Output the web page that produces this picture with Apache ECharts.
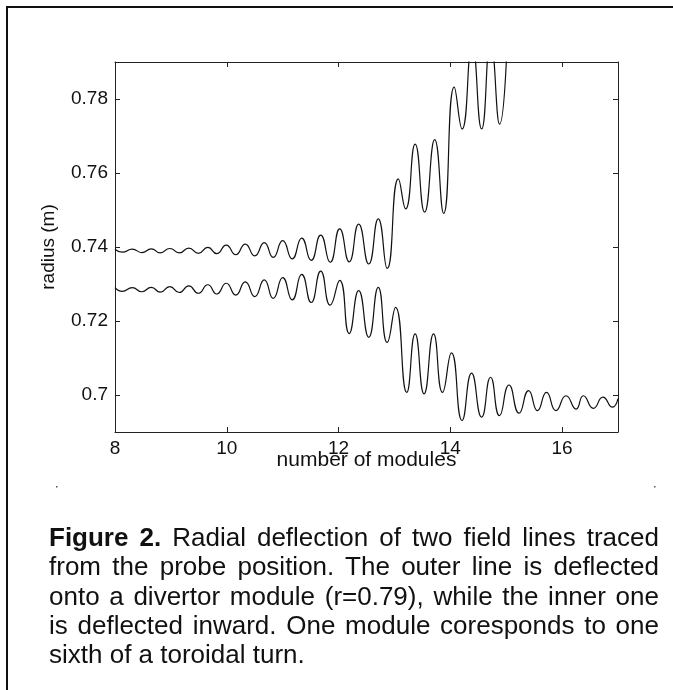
<!DOCTYPE html>
<html>
<head>
<meta charset="utf-8">
<script src="https://cdn.jsdelivr.net/npm/echarts@6/dist/echarts.min.js"></script>
<style>
  html, body { margin: 0; padding: 0; background: #fff; }
  #wrap { position: relative; width: 673px; height: 690px; overflow: hidden; }
  #chart { position: absolute; left: 0; top: 0; width: 673px; height: 690px; }
  #caption {
    position: absolute; left: 49px; top: 523px; width: 610px;
    font-family: "Liberation Sans", Arial, sans-serif; font-size: 26px;
    line-height: 29.3px; color: #111; text-align: justify;
  }
</style>
</head>
<body>
<div id="wrap">
  <div id="chart"></div>
  <div id="caption"><b>Figure 2.</b> Radial deflection of two field lines traced from the probe position. The outer line is deflected onto a divertor module (r=0.79), while the inner one is deflected inward. One module coresponds to one sixth of a toroidal turn.</div>
</div>
<script>
// tick labels
const xTicks = [8, 10, 12, 14, 16];
const yTicks = [0.70, 0.72, 0.74, 0.76, 0.78];

// outer field line: turning points (module number, radius in m)
const outerModules = [8.00, 8.13, 8.31, 8.48, 8.65, 8.81, 8.98, 9.15, 9.32, 9.49, 9.66, 9.82,
  9.99, 10.16, 10.33, 10.50, 10.67, 10.83, 11.00, 11.17, 11.34, 11.51, 11.68, 11.85,
  12.02, 12.19, 12.36, 12.54, 12.71, 12.87, 13.07, 13.20, 13.37, 13.54, 13.72, 13.88,
  14.07, 14.21, 14.39, 14.56, 14.72, 14.88, 15.05];
const outerRadius = [0.7394, 0.7386, 0.7394, 0.7385, 0.7395, 0.7384, 0.7396, 0.7384, 0.7397, 0.7383, 0.7399, 0.7382,
  0.7405, 0.7379, 0.7408, 0.7376, 0.7412, 0.7372, 0.7417, 0.7368, 0.7424, 0.7364, 0.7432, 0.7359,
  0.7449, 0.7360, 0.7462, 0.7354, 0.7476, 0.7342, 0.7584, 0.7503, 0.7678, 0.7494, 0.7690, 0.7491,
  0.7832, 0.7719, 0.7950, 0.7719, 0.7960, 0.7732, 0.8100];

// inner field line
const innerModules = [8.00, 8.13, 8.31, 8.48, 8.65, 8.81, 8.98, 9.15, 9.32, 9.49, 9.66, 9.82,
  9.99, 10.16, 10.33, 10.50, 10.67, 10.83, 11.00, 11.17, 11.34, 11.51, 11.68, 11.85,
  12.02, 12.19, 12.36, 12.54, 12.71, 12.87, 13.02, 13.22, 13.37, 13.53, 13.70, 13.86,
  14.02, 14.21, 14.38, 14.56, 14.72, 14.88, 15.05, 15.23, 15.40, 15.56, 15.72, 15.89,
  16.07, 16.25, 16.38, 16.56, 16.73, 16.90, 17.00];
const innerRadius = [0.7290, 0.7280, 0.7290, 0.7279, 0.7291, 0.7278, 0.7293, 0.7277, 0.7295, 0.7275, 0.7298, 0.7273,
  0.7302, 0.7270, 0.7306, 0.7266, 0.7311, 0.7261, 0.7317, 0.7257, 0.7326, 0.7250, 0.7335, 0.7243,
  0.7310, 0.7166, 0.7282, 0.7156, 0.7291, 0.7142, 0.7237, 0.7007, 0.7165, 0.7003, 0.7165, 0.7007,
  0.7114, 0.6931, 0.7059, 0.6940, 0.7048, 0.6944, 0.7027, 0.6951, 0.7012, 0.6958, 0.7007, 0.6958,
  0.6998, 0.6962, 0.6998, 0.6964, 0.6994, 0.6967, 0.6990];

const font = '"Liberation Sans", Arial, sans-serif';
const zip = (xs, ys) => xs.map((x, i) => [x, ys[i]]);

const chart = echarts.init(document.getElementById('chart'), null, { renderer: 'canvas' });

// 坐标轴公共样式: 刻度朝内, 四边框
const axisBase = {
  type: 'value',
  axisLine: { show: true, lineStyle: { color: '#222', width: 1 } },
  splitLine: { show: false },
  axisTick: { show: true, inside: true, length: 5, lineStyle: { color: '#222' } }
};

chart.setOption({
  animation: false,
  backgroundColor: 'transparent',
  grid: { left: 115, right: 55, top: 62, bottom: 258 },
  xAxis: [
    Object.assign({}, axisBase, {
      min: 8, max: 17, position: 'bottom',
      axisTick: Object.assign({}, axisBase.axisTick, { customValues: xTicks }),
      axisLabel: { customValues: xTicks, margin: 7, color: '#111', fontSize: 19, fontFamily: font },
      // 名称和刻度标签重叠, 与原图一致
      name: 'number of modules', nameLocation: 'middle', nameGap: 18, nameMoveOverlap: false,
      nameTextStyle: { color: '#111', fontSize: 21, fontFamily: font }
    }),
    Object.assign({}, axisBase, {
      min: 8, max: 17, position: 'top',
      axisTick: Object.assign({}, axisBase.axisTick, { customValues: xTicks }),
      axisLabel: { show: false }
    })
  ],
  yAxis: [
    Object.assign({}, axisBase, {
      min: 0.69, max: 0.79, position: 'left',
      axisTick: Object.assign({}, axisBase.axisTick, { customValues: yTicks }),
      axisLabel: { customValues: yTicks, margin: 7, color: '#111', fontSize: 19, fontFamily: font },
      name: 'radius (m)', nameLocation: 'middle', nameGap: 57, nameRotate: 90, nameMoveOverlap: false,
      nameTextStyle: { color: '#111', fontSize: 19, fontFamily: font }
    }),
    Object.assign({}, axisBase, {
      min: 0.69, max: 0.79, position: 'right',
      axisTick: Object.assign({}, axisBase.axisTick, { customValues: yTicks }),
      axisLabel: { show: false }
    })
  ],
  series: [
    {
      name: 'outer', type: 'line', xAxisIndex: 0, yAxisIndex: 0,
      data: zip(outerModules, outerRadius), smooth: 0.55, showSymbol: false, clip: true,
      lineStyle: { color: '#111', width: 1.2 }
    },
    {
      name: 'inner', type: 'line', xAxisIndex: 0, yAxisIndex: 0,
      data: zip(innerModules, innerRadius), smooth: 0.55, showSymbol: false, clip: true,
      lineStyle: { color: '#111', width: 1.2 }
    }
  ],
  graphic: [
    // 外框: 上边和左边
    { type: 'line', shape: { x1: 6, y1: 7, x2: 673, y2: 7 }, style: { stroke: '#111', lineWidth: 2 } },
    { type: 'line', shape: { x1: 7, y1: 6, x2: 7, y2: 690 }, style: { stroke: '#111', lineWidth: 2 } },
    { type: 'rect', shape: { x: 56, y: 486, width: 1.5, height: 1.5 }, style: { fill: '#555' } },
    { type: 'rect', shape: { x: 654, y: 486, width: 1.5, height: 1.5 }, style: { fill: '#555' } }
  ]
});
</script>
</body>
</html>
